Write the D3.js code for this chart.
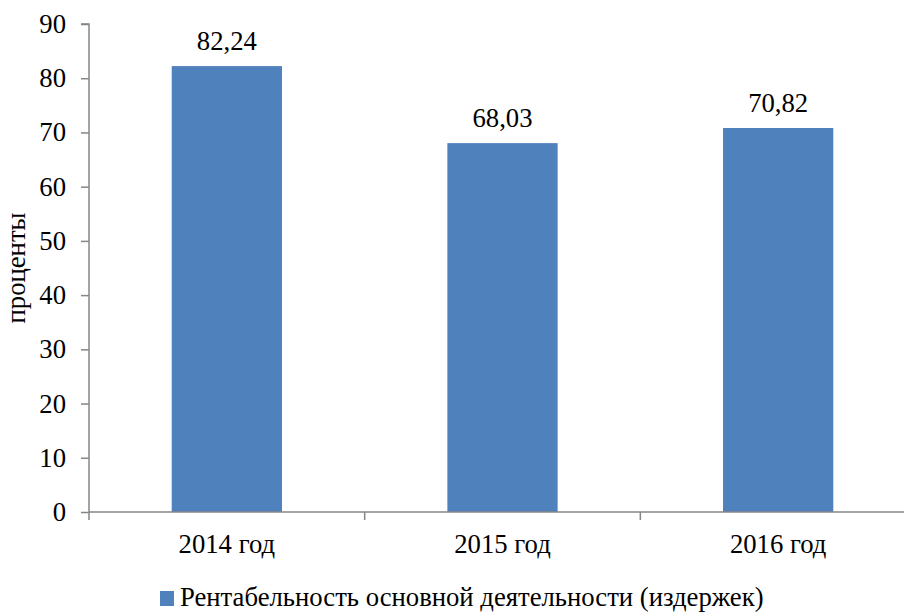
<!DOCTYPE html>
<html>
<head>
<meta charset="utf-8">
<script src="https://cdn.jsdelivr.net/npm/d3@7"></script>
<style>
    body { margin: 0; background: #fff; }
</style>
</head>
<body>
<div id="chart"></div>
<script>
const categories = ["2014 год", "2015 год", "2016 год"];
const values = [82.24, 68.03, 70.82];
const valueLabels = ["82,24", "68,03", "70,82"];
const yTicks = [0, 10, 20, 30, 40, 50, 60, 70, 80, 90];
const seriesName = "Рентабельность основной деятельности (издержек)";
const yTitle = "проценты";

const width = 904;
const height = 613;
const margin = { top: 24, left: 89, bottom: 101 };
const axisColor = "#868686";
const barColor = "#4F81BD";
const fontSize = 26.7;
const serif = "'Liberation Serif', 'Times New Roman', serif";

const svg = d3.select("#chart").append("svg")
    .attr("width", width)
    .attr("height", height)
    .style("font-family", serif);

// plot continues past the right edge of the picture (cropped original)
const x = d3.scaleBand().domain(categories).range([margin.left, 916]).paddingInner(0.6).paddingOuter(0.3);
const xEdges = d3.scaleBand().domain(categories).range([margin.left, 916]).padding(0);
const y = d3.scaleLinear().domain([0, 90]).range([height - margin.bottom, margin.top]);

// bars
svg.append("g")
    .selectAll("rect")
    .data(values)
    .join("rect")
    .attr("x", (d, i) => x(categories[i]))
    .attr("y", d => y(d))
    .attr("width", x.bandwidth())
    .attr("height", d => y(0) - y(d))
    .attr("fill", barColor);

// value labels
svg.append("g")
    .selectAll("text")
    .data(values)
    .join("text")
    .attr("x", (d, i) => x(categories[i]) + x.bandwidth() / 2)
    .attr("y", d => y(d) - 16)
    .attr("text-anchor", "middle")
    .style("font-family", serif)
    .attr("font-size", fontSize)
    .text((d, i) => valueLabels[i]);

// y axis
const yAxis = svg.append("g")
    .attr("transform", `translate(${margin.left},0)`)
    .call(d3.axisLeft(y).tickValues(yTicks).tickSize(8).tickPadding(15).tickFormat(d3.format("d")));
yAxis.attr("font-family", null).attr("font-size", null);
yAxis.select(".domain").attr("stroke", axisColor).attr("stroke-width", 1.5).attr("d", `M-8,${y(90)}H0V${y(0)}`);
yAxis.selectAll(".tick line").attr("stroke", axisColor).attr("stroke-width", 1.5);
yAxis.selectAll(".tick text")
    .style("font-family", serif)
    .attr("font-size", fontSize)
    .attr("fill", "#000");

// x axis with ticks between categories
const xAxis = svg.append("g").attr("transform", `translate(0,${y(0)})`);
xAxis.append("line")
    .attr("x1", margin.left)
    .attr("x2", 916)
    .attr("stroke", axisColor)
    .attr("stroke-width", 1.5);
const edges = categories.map(c => xEdges(c)).concat([916]);
xAxis.selectAll("line.edge")
    .data(edges)
    .join("line")
    .attr("class", "edge")
    .attr("x1", d => d)
    .attr("x2", d => d)
    .attr("y1", 0)
    .attr("y2", 8)
    .attr("stroke", axisColor)
    .attr("stroke-width", 1.5);
xAxis.selectAll("text")
    .data(categories)
    .join("text")
    .attr("x", d => x(d) + x.bandwidth() / 2)
    .attr("y", 41)
    .attr("text-anchor", "middle")
    .style("font-family", serif)
    .attr("font-size", fontSize)
    .text(d => d);

// y title
svg.append("text")
    .attr("transform", `translate(25,${(y(0) + y(90)) / 2}) rotate(-90)`)
    .attr("text-anchor", "middle")
    .style("font-family", serif)
    .attr("font-size", fontSize)
    .text(yTitle);

// legend
const legend = svg.append("g").attr("transform", "translate(160,606)");
legend.append("rect")
    .attr("x", 0)
    .attr("y", -15)
    .attr("width", 14)
    .attr("height", 15)
    .attr("fill", barColor);
legend.append("text")
    .attr("x", 20)
    .attr("y", 0)
    .style("font-family", serif)
    .attr("font-size", fontSize)
    .text(seriesName);
</script>
</body>
</html>
